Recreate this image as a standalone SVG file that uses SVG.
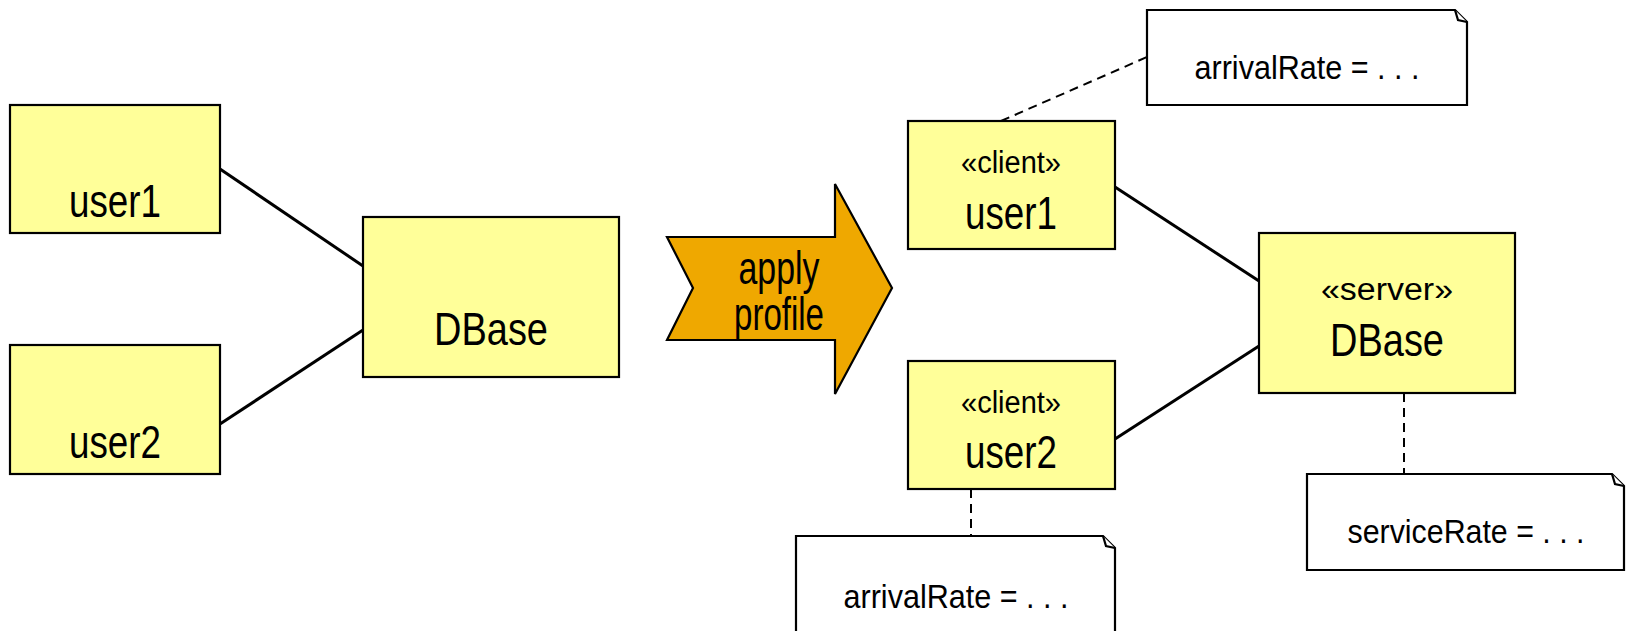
<svg xmlns="http://www.w3.org/2000/svg" width="1627" height="631" viewBox="0 0 1627 631">
  <style>
    .box { fill: #ffff99; stroke: #000; stroke-width: 2.2; }
    .note { fill: #fff; stroke: #000; stroke-width: 2.2; }
    .assoc { stroke: #000; stroke-width: 3; fill: none; }
    .anchor { stroke: #000; stroke-width: 2; stroke-dasharray: 9 6; fill: none; }
    text { font-family: "Liberation Sans Narrow", "Liberation Sans", Arial, sans-serif; fill: #000; text-anchor: middle; }
    .name { font-size: 47px; }
    .stereo { font-size: 31px; }
    .val { font-size: 34px; }
  </style>

  <rect width="1627" height="631" fill="#fff"/>

  <!-- connectors -->
  <g id="connectors">
    <line class="assoc" x1="220" y1="169" x2="363" y2="266"/>
    <line class="assoc" x1="220" y1="424" x2="363" y2="330"/>
    <line class="assoc" x1="1115" y1="187" x2="1259" y2="281"/>
    <line class="assoc" x1="1115" y1="439" x2="1259" y2="346"/>
    <line class="anchor" x1="1001" y1="121" x2="1147" y2="57"/>
    <line class="anchor" x1="971" y1="489" x2="971" y2="536"/>
    <line class="anchor" x1="1404" y1="393" x2="1404" y2="474"/>
  </g>

  <!-- plain model -->
  <g id="user1-plain">
    <rect class="box" x="10" y="105" width="210" height="128"/>
    <text class="name" x="115" y="217" textLength="92" lengthAdjust="spacingAndGlyphs">user1</text>
  </g>
  <g id="user2-plain">
    <rect class="box" x="10" y="345" width="210" height="129"/>
    <text class="name" x="115" y="458" textLength="92" lengthAdjust="spacingAndGlyphs">user2</text>
  </g>
  <g id="dbase-plain">
    <rect class="box" x="363" y="217" width="256" height="160"/>
    <text class="name" x="491" y="345" textLength="114" lengthAdjust="spacingAndGlyphs">DBase</text>
  </g>

  <!-- transformation arrow -->
  <g id="apply-profile">
    <polygon points="667,237 835,237 835,184 892,288 835,394 835,340 667,340 693,288" fill="#efa800" stroke="#000" stroke-width="2.2"/>
    <text class="name" x="779" y="284" textLength="81" lengthAdjust="spacingAndGlyphs">apply</text>
    <text class="name" x="779" y="330" textLength="90" lengthAdjust="spacingAndGlyphs">profile</text>
  </g>

  <!-- profiled model -->
  <g id="user1-client">
    <rect class="box" x="908" y="121" width="207" height="128"/>
    <text class="stereo" x="1011" y="173" textLength="100" lengthAdjust="spacingAndGlyphs">«client»</text>
    <text class="name" x="1011" y="229" textLength="92" lengthAdjust="spacingAndGlyphs">user1</text>
  </g>
  <g id="user2-client">
    <rect class="box" x="908" y="361" width="207" height="128"/>
    <text class="stereo" x="1011" y="413" textLength="100" lengthAdjust="spacingAndGlyphs">«client»</text>
    <text class="name" x="1011" y="468" textLength="92" lengthAdjust="spacingAndGlyphs">user2</text>
  </g>
  <g id="dbase-server">
    <rect class="box" x="1259" y="233" width="256" height="160"/>
    <text class="stereo" x="1387" y="300" textLength="132" lengthAdjust="spacingAndGlyphs">«server»</text>
    <text class="name" x="1387" y="356" textLength="114" lengthAdjust="spacingAndGlyphs">DBase</text>
  </g>

  <!-- notes -->
  <g id="note-user1">
    <path class="note" d="M1147,10 H1455 L1467,22 V105 H1147 Z"/>
    <path class="note" d="M1455,10 L1458,20 L1467,22"/>
    <text class="val" x="1307" y="79" textLength="225" lengthAdjust="spacingAndGlyphs">arrivalRate = . . .</text>
  </g>
  <g id="note-user2">
    <path class="note" d="M796,536 H1103 L1115,548 V640 H796 Z"/>
    <path class="note" d="M1103,536 L1106,546 L1115,548"/>
    <text class="val" x="956" y="608" textLength="225" lengthAdjust="spacingAndGlyphs">arrivalRate = . . .</text>
  </g>
  <g id="note-dbase">
    <path class="note" d="M1307,474 H1612 L1624,486 V570 H1307 Z"/>
    <path class="note" d="M1612,474 L1615,484 L1624,486"/>
    <text class="val" x="1466" y="543" textLength="237" lengthAdjust="spacingAndGlyphs">serviceRate = . . .</text>
  </g>
</svg>
